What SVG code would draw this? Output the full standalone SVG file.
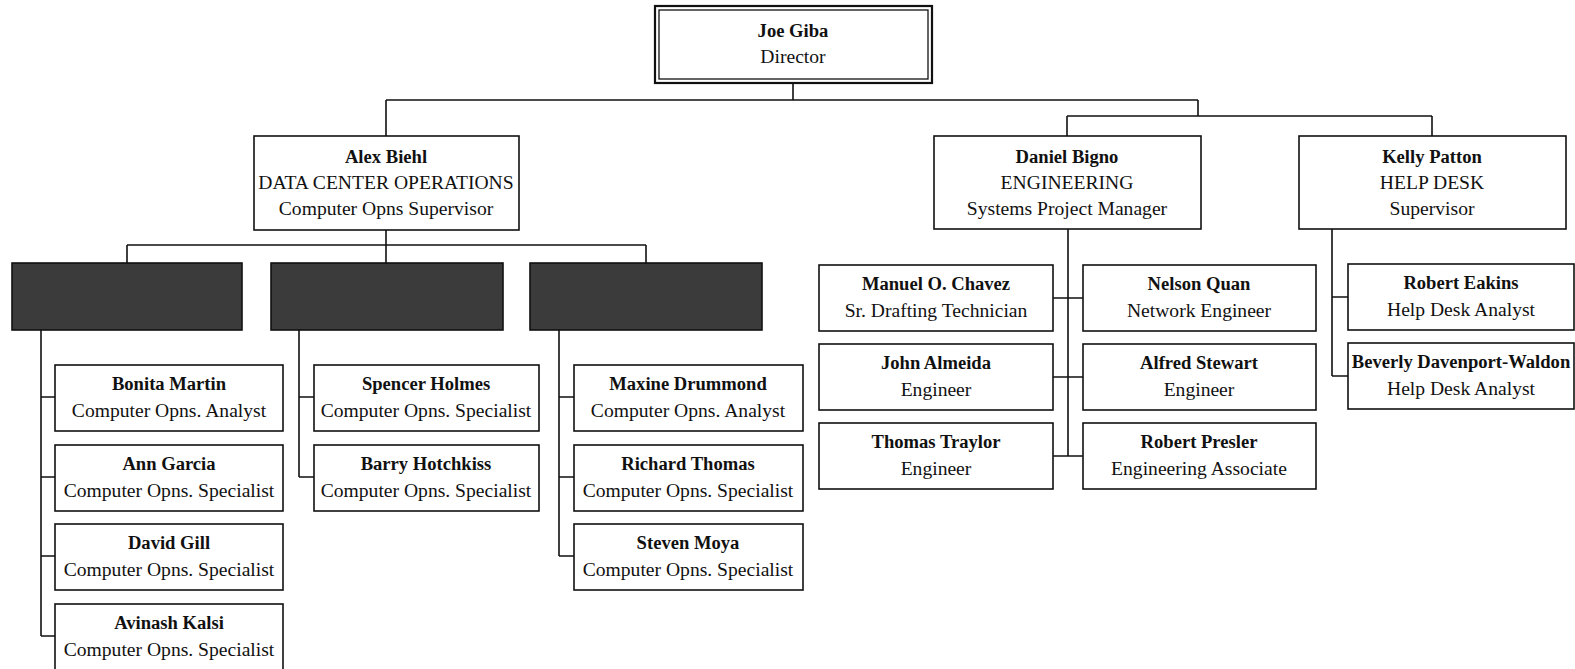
<svg xmlns="http://www.w3.org/2000/svg" width="1575" height="669" viewBox="0 0 1575 669">
<style>
  .box { fill: #ffffff; stroke: #111111; stroke-width: 1.6; }
  .dark { fill: #3b3b3b; stroke: #111111; stroke-width: 1.6; }
  .line { fill: none; stroke: #111111; stroke-width: 1.6; }
  text { font-family: "Liberation Serif", "Times New Roman", serif; font-size: 19.6px; fill: #111111; text-anchor: middle; }
  .n { font-weight: bold; font-size: 18.6px; }
</style>
<rect width="1575" height="669" fill="#ffffff"/>
<g id="connectors">
  <path class="line" d="M793 83 V100 M386 100 H1198 M386 100 V136 M1198 100 V116 M1067 116 H1432 M1067 116 V136 M1432 116 V136"/>
  <path class="line" d="M386 230 V245 M127 245 H646 M127 245 V263 M386 245 V263 M646 245 V263"/>
  <path class="line" d="M41 330 V636 M41 397 H55 M41 477 H55 M41 556 H55 M41 636 H55"/>
  <path class="line" d="M299 330 V477 M299 397 H314 M299 477 H314"/>
  <path class="line" d="M559 330 V556 M559 397 H574 M559 477 H574 M559 556 H574"/>
  <path class="line" d="M1068 229 V456 M1053 298 H1083 M1053 377 H1083 M1053 456 H1083"/>
  <path class="line" d="M1332 229 V376 M1332 297 H1348 M1332 376 H1348"/>
</g>
<g id="joe-giba">
  <rect x="655" y="6" width="277" height="77" fill="#ffffff" stroke="#111111" stroke-width="2.2"/>
  <rect x="659" y="10" width="269" height="69" fill="none" stroke="#111111" stroke-width="1.3"/>
  <text x="793" y="37" class="n">Joe Giba</text>
  <text x="793" y="63">Director</text>
</g>
<g id="alex-biehl">
  <rect class="box" x="254" y="136" width="265" height="94"/>
  <text x="386" y="163" class="n">Alex Biehl</text>
  <text x="386" y="189">DATA CENTER OPERATIONS</text>
  <text x="386" y="215">Computer Opns Supervisor</text>
</g>
<g id="daniel-bigno">
  <rect class="box" x="934" y="136" width="267" height="93"/>
  <text x="1067" y="163" class="n">Daniel Bigno</text>
  <text x="1067" y="189">ENGINEERING</text>
  <text x="1067" y="215">Systems Project Manager</text>
</g>
<g id="kelly-patton">
  <rect class="box" x="1299" y="136" width="267" height="93"/>
  <text x="1432" y="163" class="n">Kelly Patton</text>
  <text x="1432" y="189">HELP DESK</text>
  <text x="1432" y="215">Supervisor</text>
</g>
<g id="shift-1"><rect class="dark" x="12" y="263" width="230" height="67"/></g>
<g id="shift-2"><rect class="dark" x="271" y="263" width="232" height="67"/></g>
<g id="shift-3"><rect class="dark" x="530" y="263" width="232" height="67"/></g>
<g id="bonita-martin">
  <rect class="box" x="55" y="365" width="228" height="66"/>
  <text x="169" y="390" class="n">Bonita Martin</text>
  <text x="169" y="417">Computer Opns. Analyst</text>
</g>
<g id="ann-garcia">
  <rect class="box" x="55" y="445" width="228" height="66"/>
  <text x="169" y="470" class="n">Ann Garcia</text>
  <text x="169" y="497">Computer Opns. Specialist</text>
</g>
<g id="david-gill">
  <rect class="box" x="55" y="524" width="228" height="66"/>
  <text x="169" y="549" class="n">David Gill</text>
  <text x="169" y="576">Computer Opns. Specialist</text>
</g>
<g id="avinash-kalsi">
  <rect class="box" x="55" y="604" width="228" height="70"/>
  <text x="169" y="629" class="n">Avinash Kalsi</text>
  <text x="169" y="656">Computer Opns. Specialist</text>
</g>
<g id="spencer-holmes">
  <rect class="box" x="314" y="365" width="225" height="66"/>
  <text x="426" y="390" class="n">Spencer Holmes</text>
  <text x="426" y="417">Computer Opns. Specialist</text>
</g>
<g id="barry-hotchkiss">
  <rect class="box" x="314" y="445" width="225" height="66"/>
  <text x="426" y="470" class="n">Barry Hotchkiss</text>
  <text x="426" y="497">Computer Opns. Specialist</text>
</g>
<g id="maxine-drummond">
  <rect class="box" x="574" y="365" width="229" height="66"/>
  <text x="688" y="390" class="n">Maxine Drummond</text>
  <text x="688" y="417">Computer Opns. Analyst</text>
</g>
<g id="richard-thomas">
  <rect class="box" x="574" y="445" width="229" height="66"/>
  <text x="688" y="470" class="n">Richard Thomas</text>
  <text x="688" y="497">Computer Opns. Specialist</text>
</g>
<g id="steven-moya">
  <rect class="box" x="574" y="524" width="229" height="66"/>
  <text x="688" y="549" class="n">Steven Moya</text>
  <text x="688" y="576">Computer Opns. Specialist</text>
</g>
<g id="manuel-chavez">
  <rect class="box" x="819" y="265" width="234" height="66"/>
  <text x="936" y="290" class="n">Manuel O. Chavez</text>
  <text x="936" y="317">Sr. Drafting Technician</text>
</g>
<g id="nelson-quan">
  <rect class="box" x="1083" y="265" width="233" height="66"/>
  <text x="1199" y="290" class="n">Nelson Quan</text>
  <text x="1199" y="317">Network Engineer</text>
</g>
<g id="john-almeida">
  <rect class="box" x="819" y="344" width="234" height="66"/>
  <text x="936" y="369" class="n">John Almeida</text>
  <text x="936" y="396">Engineer</text>
</g>
<g id="alfred-stewart">
  <rect class="box" x="1083" y="344" width="233" height="66"/>
  <text x="1199" y="369" class="n">Alfred Stewart</text>
  <text x="1199" y="396">Engineer</text>
</g>
<g id="thomas-traylor">
  <rect class="box" x="819" y="423" width="234" height="66"/>
  <text x="936" y="448" class="n">Thomas Traylor</text>
  <text x="936" y="475">Engineer</text>
</g>
<g id="robert-presler">
  <rect class="box" x="1083" y="423" width="233" height="66"/>
  <text x="1199" y="448" class="n">Robert Presler</text>
  <text x="1199" y="475">Engineering Associate</text>
</g>
<g id="robert-eakins">
  <rect class="box" x="1348" y="264" width="226" height="66"/>
  <text x="1461" y="289" class="n">Robert Eakins</text>
  <text x="1461" y="316">Help Desk Analyst</text>
</g>
<g id="beverly-davenport-waldon">
  <rect class="box" x="1348" y="343" width="226" height="66"/>
  <text x="1461" y="368" class="n">Beverly Davenport-Waldon</text>
  <text x="1461" y="395">Help Desk Analyst</text>
</g>
</svg>
